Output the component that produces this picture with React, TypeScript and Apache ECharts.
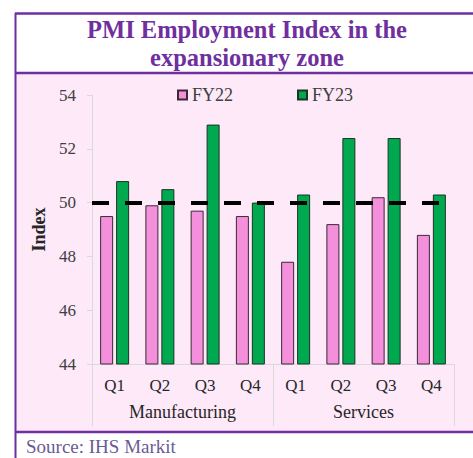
import React, { useEffect, useRef } from "react";
import * as echarts from "echarts";

const quarters = ["Q1", "Q2", "Q3", "Q4", "Q1", "Q2", "Q3", "Q4"];
const groups = ["Manufacturing", "Services"];
const fy22 = [49.5, 49.9, 49.7, 49.5, 47.8, 49.2, 50.2, 48.8];
const fy23 = [50.8, 50.5, 52.9, 50.0, 50.3, 52.4, 52.4, 50.3];
const threshold = 50;

const SERIF = "'Liberation Serif', 'Times New Roman', serif";
const PURPLE = "#6f2f9f";

export default function App() {
  const ref = useRef<HTMLDivElement>(null);
  useEffect(() => {
    if (!ref.current) return;
    const chart = echarts.init(ref.current, undefined, { renderer: "svg" });
    chart.setOption({
      animation: false,
      backgroundColor: "#ffffff",
      graphic: [
        { type: "rect", z: -10, shape: { x: 15, y: 73, width: 458, height: 359 }, style: { fill: "#fde9f8" } },
        { type: "line", z: 10, shape: { x1: 15, y1: 13.5, x2: 473, y2: 13.5 }, style: { stroke: PURPLE, lineWidth: 2.5 } },
        { type: "line", z: 10, shape: { x1: 15, y1: 73, x2: 473, y2: 73 }, style: { stroke: PURPLE, lineWidth: 2.5 } },
        { type: "line", z: 10, shape: { x1: 15, y1: 432, x2: 473, y2: 432 }, style: { stroke: PURPLE, lineWidth: 2.5 } },
        { type: "line", z: 10, shape: { x1: 15.5, y1: 13, x2: 15.5, y2: 458 }, style: { stroke: PURPLE, lineWidth: 2 } },
        {
          type: "text",
          x: 247,
          y: 15,
          style: {
            text: "PMI Employment Index in the\nexpansionary zone",
            fontFamily: SERIF,
            fontWeight: "bold",
            fontSize: 24.5,
            lineHeight: 28,
            fill: PURPLE,
            align: "center",
            verticalAlign: "top",
          },
        },
        {
          type: "text",
          x: 26,
          y: 437,
          style: {
            text: "Source: IHS Markit",
            fontFamily: SERIF,
            fontSize: 19,
            fill: "#6b5b95",
            align: "left",
            verticalAlign: "top",
          },
        },
      ],
      legend: {
        left: 172,
        top: 81,
        itemGap: 64,
        itemWidth: 9,
        itemHeight: 9,
        icon: "rect",
        textStyle: { fontFamily: SERIF, fontSize: 18, color: "#404040" },
        data: ["FY22", "FY23"],
      },
      grid: { left: 92, right: 19, top: 95, bottom: 94 },
      xAxis: [
        {
          type: "category",
          data: quarters,
          position: "bottom",
          axisLine: { show: true, lineStyle: { color: "#d9d9d9", width: 1 } },
          axisTick: { show: false },
          axisLabel: { margin: 13, fontFamily: SERIF, fontSize: 17, color: "#262626" },
        },
        {
          type: "category",
          data: groups,
          position: "bottom",
          axisLine: { show: false },
          axisTick: { show: true, length: 62, interval: 0, lineStyle: { color: "#d9d9d9", width: 1 } },
          axisLabel: { margin: 39, fontFamily: SERIF, fontSize: 18, color: "#262626" },
        },
      ],
      yAxis: {
        type: "value",
        min: 44,
        max: 54,
        interval: 2,
        name: "Index",
        nameLocation: "middle",
        nameRotate: 90,
        nameGap: 39,
        nameTextStyle: { fontFamily: SERIF, fontSize: 18, fontWeight: "bold", color: "#262626" },
        axisLine: { show: true, lineStyle: { color: "#d9d9d9", width: 1 } },
        axisTick: { show: true, length: 5, lineStyle: { color: "#d9d9d9" } },
        splitLine: { show: false },
        axisLabel: { margin: 16, fontFamily: SERIF, fontSize: 17, color: "#404040" },
      },
      series: [
        {
          name: "FY22",
          type: "bar",
          data: fy22,
          barWidth: 13,
          barGap: "23%",
          itemStyle: { color: "#f48fdc", borderColor: "#3a2a35", borderWidth: 1 },
        },
        {
          name: "FY23",
          type: "bar",
          data: fy23,
          barWidth: 13,
          barGap: "23%",
          itemStyle: { color: "#00a84f", borderColor: "#1d3324", borderWidth: 1 },
          markLine: {
            silent: true,
            symbol: "none",
            label: { show: false },
            lineStyle: { color: "#000", width: 4, type: [17, 16] },
            data: [{ yAxis: threshold }],
          },
        },
      ],
    });
    return () => chart.dispose();
  }, []);
  return (
    <div
      ref={ref}
      style={{ position: "absolute", left: 0, top: 0, width: 473, height: 458 }}
    />
  );
}
